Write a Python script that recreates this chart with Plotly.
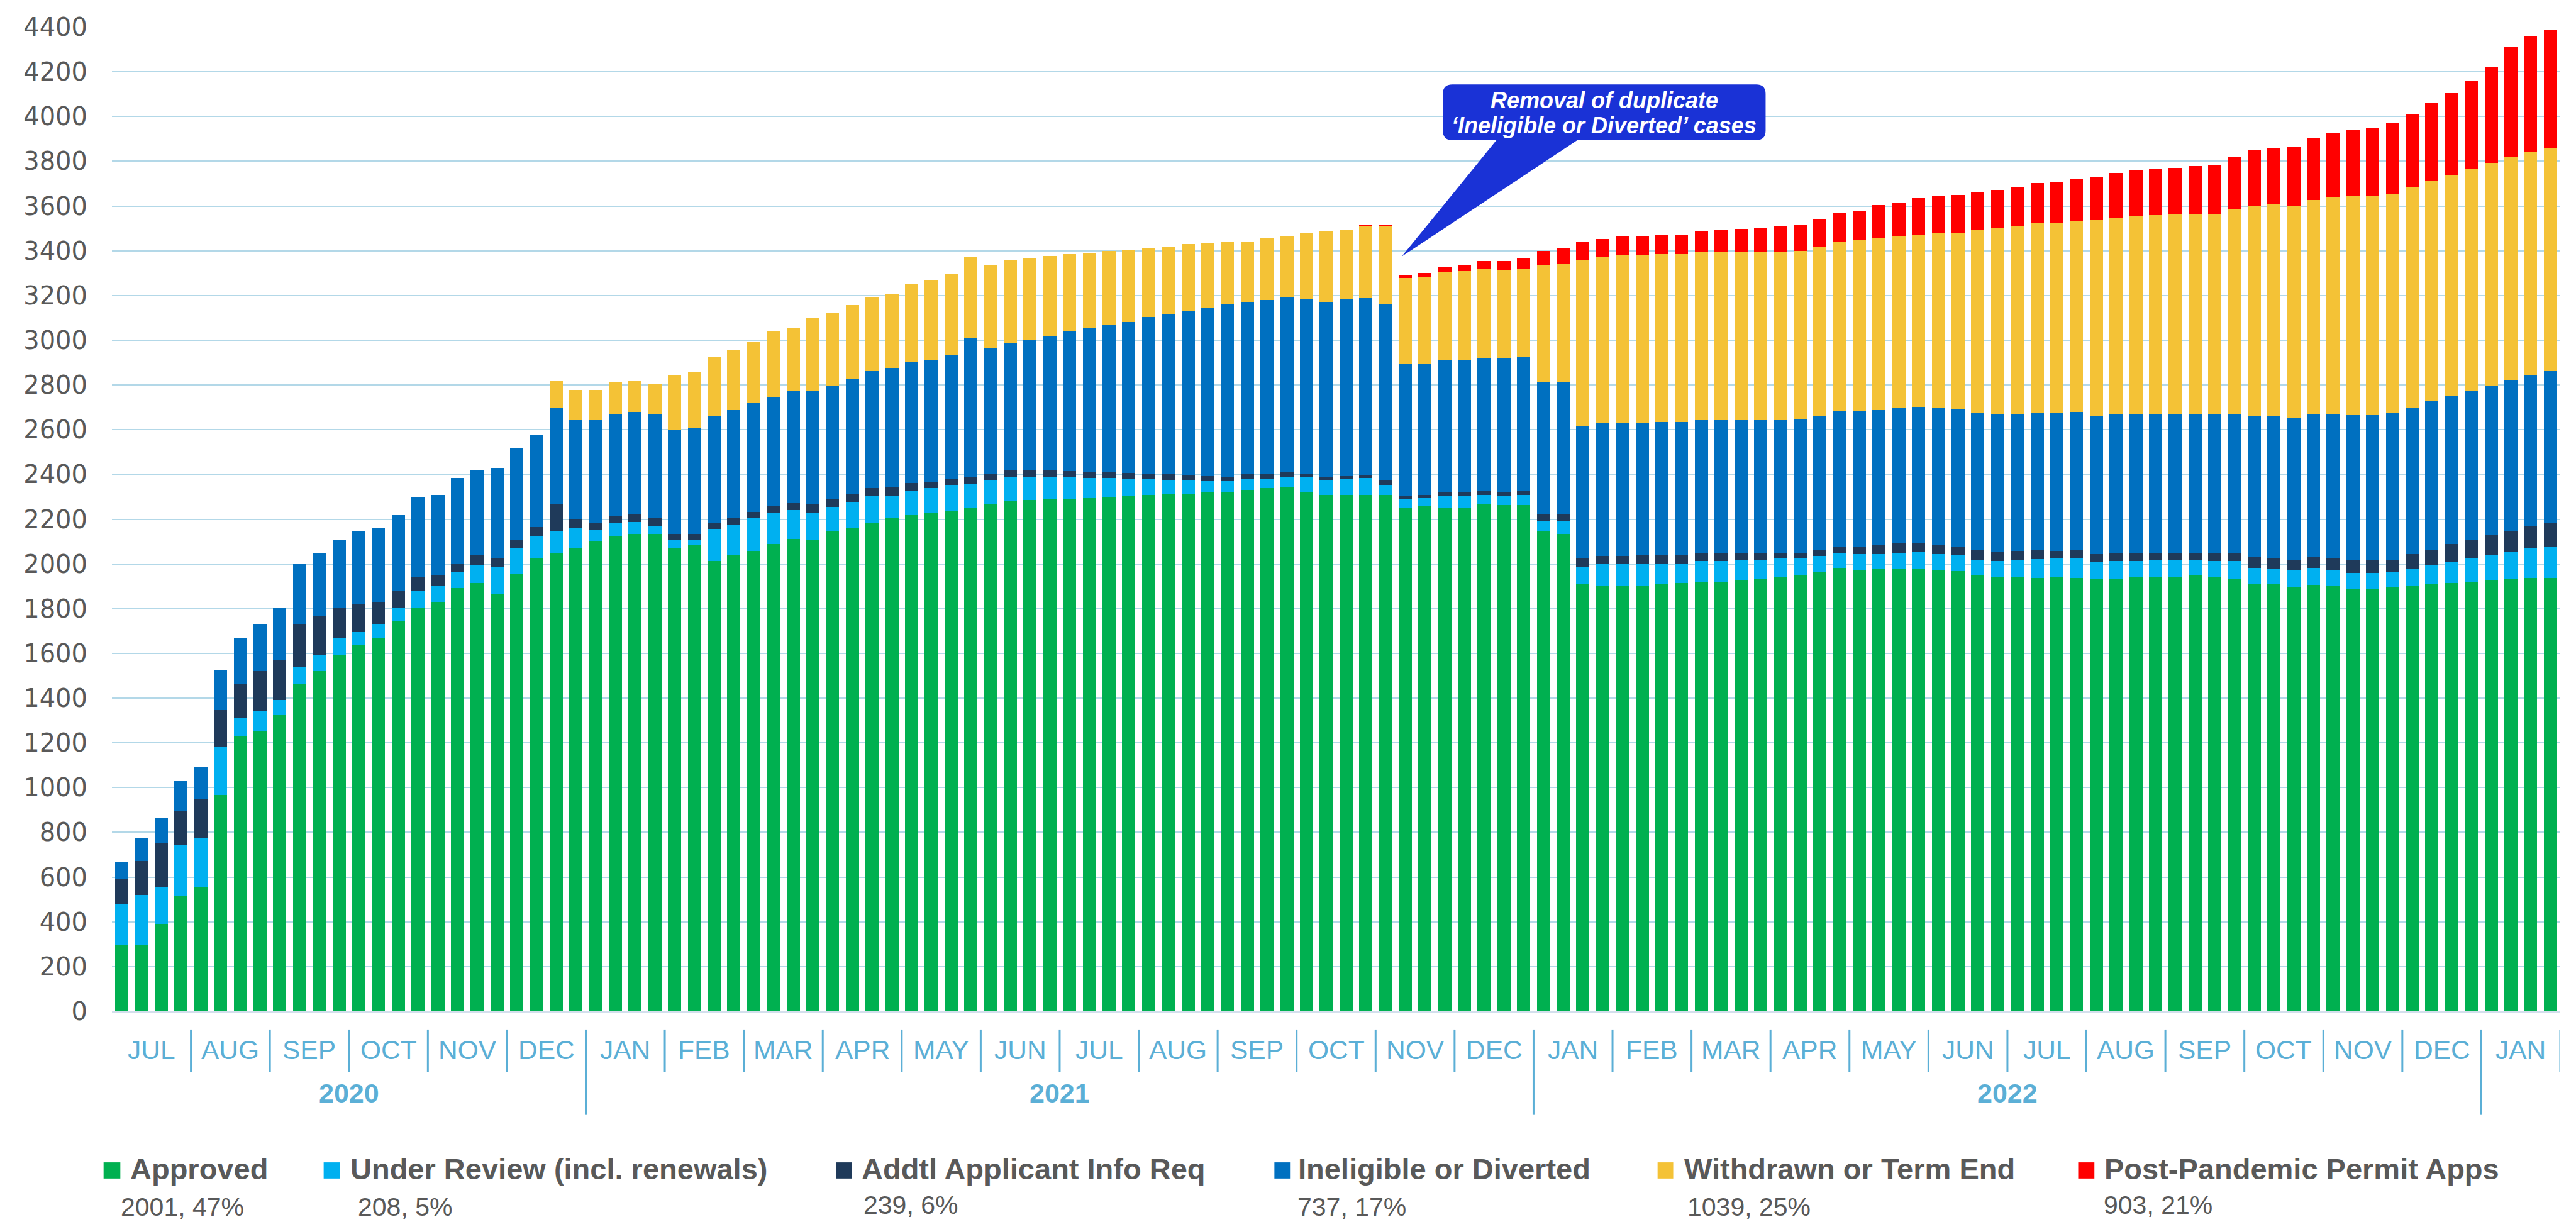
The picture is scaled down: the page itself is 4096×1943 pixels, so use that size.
import plotly.graph_objects as go

# ---------------- DATA ----------------
months = ["JUL", "AUG", "SEP", "OCT", "NOV", "DEC",
          "JAN", "FEB", "MAR", "APR", "MAY", "JUN", "JUL", "AUG", "SEP", "OCT", "NOV", "DEC",
          "JAN", "FEB", "MAR", "APR", "MAY", "JUN", "JUL", "AUG", "SEP", "OCT", "NOV", "DEC",
          "JAN"]
bars_per_month = 4
year_labels = ["2020", "2021", "2022"]
year_first_month = [0, 6, 18]
year_last_month = [6, 18, 30]

approved = [294, 294, 391, 515, 556, 968, 1232, 1253, 1323, 1465, 1521, 1591, 1635, 1668, 1747, 1803,
            1829, 1891, 1915, 1865, 1956, 2026, 2050, 2070, 2103, 2126, 2135, 2135, 2070, 2085, 2012, 2041,
            2059, 2088, 2112, 2106, 2144, 2162, 2185, 2203, 2218, 2229, 2238, 2250, 2265, 2279, 2285, 2288,
            2291, 2294, 2300, 2306, 2309, 2312, 2315, 2320, 2323, 2332, 2338, 2341, 2320, 2309, 2309, 2309,
            2309, 2253, 2259, 2253, 2250, 2265, 2262, 2262, 2144, 2135, 1912, 1900, 1900, 1900, 1909, 1915,
            1918, 1920, 1929, 1935, 1944, 1950, 1965, 1982, 1973, 1976, 1979, 1979, 1970, 1968, 1950, 1944,
            1941, 1938, 1941, 1938, 1932, 1935, 1941, 1944, 1944, 1947, 1941, 1932, 1912, 1909, 1897, 1906,
            1900, 1888, 1888, 1897, 1900, 1909, 1915, 1920, 1926, 1932, 1938, 1938]
under_review = [188, 227, 165, 226, 220, 217, 77, 88, 68, 73, 73, 77, 59, 64, 59, 76,
                71, 71, 79, 123, 117, 100, 94, 92, 50, 59, 53, 36, 36, 24, 144, 132,
                144, 138, 129, 123, 112, 114, 121, 103, 111, 109, 115, 106, 108, 112, 106, 100,
                97, 91, 85, 76, 70, 64, 58, 50, 47, 47, 44, 50, 71, 64, 73, 76,
                44, 35, 35, 53, 53, 44, 44, 47, 50, 56, 73, 100, 100, 103, 94, 88,
                94, 92, 89, 83, 79, 76, 70, 65, 71, 68, 71, 74, 74, 70, 68, 68,
                74, 83, 82, 88, 77, 77, 71, 71, 71, 68, 71, 80, 70, 67, 76, 76,
                73, 71, 71, 65, 76, 85, 94, 103, 115, 124, 132, 141]
addtl_info = [112, 152, 197, 153, 174, 162, 156, 180, 177, 194, 171, 138, 129, 97, 73, 65,
              50, 41, 47, 38, 33, 39, 121, 38, 32, 27, 33, 35, 29, 26, 26, 33,
              29, 33, 32, 41, 35, 36, 32, 35, 33, 30, 29, 35, 30, 29, 29, 30,
              27, 27, 24, 24, 24, 24, 24, 24, 21, 21, 18, 18, 12, 15, 12, 12,
              20, 18, 15, 14, 17, 17, 17, 17, 29, 30, 38, 35, 35, 38, 38, 38,
              35, 35, 29, 29, 24, 21, 27, 32, 32, 38, 41, 38, 41, 41, 44, 44,
              44, 41, 36, 36, 35, 35, 35, 35, 35, 35, 35, 35, 47, 47, 45, 47,
              53, 59, 59, 56, 68, 71, 79, 86, 88, 91, 101, 103]
ineligible = [74, 103, 112, 135, 144, 176, 203, 211, 238, 271, 285, 303, 321, 330, 339, 353,
              359, 382, 379, 403, 411, 414, 432, 444, 459, 458, 458, 462, 465, 471, 480, 482,
              488, 488, 500, 503, 503, 517, 524, 535, 541, 544, 550, 618, 559, 565, 583, 602,
              623, 641, 658, 676, 700, 717, 735, 753, 771, 770, 779, 782, 782, 782, 788, 791,
              791, 588, 585, 592, 589, 594, 595, 597, 592, 591, 595, 597, 597, 591, 594, 594,
              597, 597, 597, 597, 597, 600, 600, 603, 606, 606, 609, 612, 612, 612, 611, 612,
              611, 614, 617, 617, 618, 621, 621, 620, 618, 620, 621, 623, 633, 639, 632, 641,
              644, 647, 647, 655, 656, 661, 662, 664, 668, 676, 673, 680]
withdrawn = [0, 0, 0, 0, 0, 0, 0, 0, 0, 0, 0, 0, 0, 0, 0, 0,
             0, 0, 0, 0, 0, 0, 121, 135, 135, 142, 139, 138, 244, 250, 264, 268,
             271, 291, 283, 324, 326, 327, 332, 333, 350, 358, 362, 364, 373, 374, 364, 356,
             347, 338, 333, 324, 309, 303, 297, 288, 279, 271, 280, 273, 294, 315, 312, 321,
             345, 385, 391, 394, 400, 397, 397, 397, 520, 529, 741, 741, 747, 750, 750, 750,
             750, 750, 750, 753, 753, 753, 755, 756, 768, 771, 764, 770, 782, 791, 818, 832,
             839, 847, 850, 856, 876, 879, 885, 889, 894, 894, 896, 915, 938, 944, 950, 956,
             968, 979, 979, 983, 982, 985, 988, 991, 997, 994, 997, 997]
post_pandemic = [0, 0, 0, 0, 0, 0, 0, 0, 0, 0, 0, 0, 0, 0, 0, 0,
                 0, 0, 0, 0, 0, 0, 0, 0, 0, 0, 0, 0, 0, 0, 0, 0,
                 0, 0, 0, 0, 0, 0, 0, 0, 0, 0, 0, 0, 0, 0, 0, 0,
                 0, 0, 0, 0, 0, 0, 0, 0, 0, 0, 0, 0, 0, 0, 0, 5,
                 8, 12, 15, 23, 29, 36, 38, 47, 65, 71, 79, 80, 85, 85, 85, 88,
                 94, 100, 103, 103, 115, 117, 124, 129, 129, 144, 153, 162, 165, 168, 171, 173,
                 173, 180, 183, 188, 194, 200, 206, 205, 208, 215, 221, 235, 250, 255, 267, 280,
                 288, 294, 303, 314, 330, 348, 368, 398, 429, 495, 520, 526]

series_names = ["Approved", "Under Review (incl. renewals)", "Addtl Applicant Info Req",
                "Ineligible or Diverted", "Withdrawn or Term End", "Post-Pandemic Permit Apps"]
series_values = [approved, under_review, addtl_info, ineligible, withdrawn, post_pandemic]
series_colors = ["#00B050", "#00B0F0", "#1F3A5A", "#0070C0", "#F4C236", "#FF0000"]
legend_values = ["2001, 47%", "208, 5%", "239, 6%", "737, 17%", "1039, 25%", "903, 21%"]

callout_lines = ["Removal of duplicate", "\u2018Ineligible or Diverted\u2019 cases"]

# ---------------- LAYOUT HELPERS (reference-pixel -> paper) ----------------
REF_L, REF_R, REF_T, REF_B = 191.0, 4574.0, 36.6, 1800.4


def px(xr):
    return (xr - REF_L) / (REF_R - REF_L)


def py(yr):
    return (REF_B - yr) / (REF_B - REF_T)


GRAY = "#595959"
AXBLUE = "#5BAFD6"
FONT = "Liberation Sans, Arial, sans-serif"
n = len(approved)
x = list(range(n))

fig = go.Figure()
for name, vals, col in zip(series_names, series_values, series_colors):
    fig.add_trace(go.Bar(x=x, y=vals, name=name, marker=dict(color=col, line=dict(width=0)),
                         showlegend=False))

shapes = []
annotations = []

# month labels + dividers
for m, lab in enumerate(months):
    annotations.append(dict(x=m * bars_per_month + (bars_per_month - 1) / 2, xref="x",
                            y=py(1870), yref="paper", text=lab, showarrow=False,
                            xanchor="center", yanchor="middle",
                            font=dict(family=FONT, size=42.5, color=AXBLUE)))
year_bounds = set(year_last_month)
for k in range(1, len(months) + 1):
    xb = k * bars_per_month - 0.5
    y_bottom = py(1986) if k in year_bounds else py(1909)
    shapes.append(dict(type="line", xref="x", yref="paper", x0=xb, x1=xb, y0=py(1833), y1=y_bottom,
                       line=dict(color=AXBLUE, width=3)))
for lab, m0, m1 in zip(year_labels, year_first_month, year_last_month):
    xc = (m0 * bars_per_month + m1 * bars_per_month) / 2 - 0.5
    annotations.append(dict(x=xc, xref="x", y=py(1947), yref="paper", text="<b>" + lab + "</b>",
                            showarrow=False, xanchor="center", yanchor="middle",
                            font=dict(family=FONT, size=43, color=AXBLUE)))

# legend (custom)
leg_sq = [(176, 206), (570, 599), (1488, 1516), (2272, 2300), (2958, 2986), (3711, 3740)]
leg_txt_x = [221, 615, 1531, 2312, 3003, 3755]
leg_val_x = [206, 630, 1535, 2312, 3010, 3756]
leg_val_y = [2151, 2151, 2147, 2151, 2151, 2148]
for i in range(len(series_names)):
    shapes.append(dict(type="rect", xref="paper", yref="paper",
                       x0=px(leg_sq[i][0]), x1=px(leg_sq[i][1]), y0=py(2071), y1=py(2100),
                       fillcolor=series_colors[i], line=dict(width=0)))
    annotations.append(dict(x=px(leg_txt_x[i]), xref="paper", y=py(2083), yref="paper",
                            text="<b>" + series_names[i] + "</b>", showarrow=False,
                            xanchor="left", yanchor="middle",
                            font=dict(family=FONT, size=47, color=GRAY)))
    annotations.append(dict(x=px(leg_val_x[i]), xref="paper", y=py(leg_val_y[i]), yref="paper",
                            text=legend_values[i], showarrow=False, xanchor="left", yanchor="middle",
                            borderpad=0,
                            font=dict(family=FONT, size=41, color=GRAY)))

# callout bubble
bx0, bx1, by0, by1, r = 2573.6, 3151.4, 139.3, 239.3, 17.0
b1, b2, tipx, tipy = 2669.6, 2814.5, 2500.0, 447.7


def P(xr, yr):
    return "%.5f,%.5f" % (px(xr), py(yr))


path = ("M " + P(bx0 + r, by0) + " L " + P(bx1 - r, by0) + " Q " + P(bx1, by0) + " " + P(bx1, by0 + r)
        + " L " + P(bx1, by1 - r) + " Q " + P(bx1, by1) + " " + P(bx1 - r, by1)
        + " L " + P(b2, by1) + " L " + P(tipx, tipy) + " L " + P(b1, by1)
        + " L " + P(bx0 + r, by1) + " Q " + P(bx0, by1) + " " + P(bx0, by1 - r)
        + " L " + P(bx0, by0 + r) + " Q " + P(bx0, by0) + " " + P(bx0 + r, by0) + " Z")
shapes.append(dict(type="path", xref="paper", yref="paper", path=path, fillcolor="#1A32D6",
                   line=dict(width=0), layer="above"))
for line_txt, yy in zip(callout_lines, [167.5, 212.5]):
    annotations.append(dict(x=px((bx0 + bx1) / 2), xref="paper", y=py(yy), yref="paper",
                            text="<b><i>" + line_txt + "</i></b>", showarrow=False,
                            xanchor="center", yanchor="middle",
                            font=dict(family=FONT, size=36, color="white")))

fig.update_layout(
    width=4096, height=1943, autosize=False,
    margin=dict(l=170, r=33, t=33, b=343, pad=0),
    paper_bgcolor="white", plot_bgcolor="white",
    barmode="stack", bargap=0.33,
    shapes=shapes, annotations=annotations,
    xaxis=dict(range=[-0.5, n - 0.5], showticklabels=False, showgrid=False, zeroline=False,
               showline=True, linecolor="#D3DFEC", linewidth=2, ticks=""),
    yaxis=dict(range=[0, 4400], dtick=200, tick0=0, showgrid=True, gridcolor="#B3D8E8", gridwidth=2,
               zeroline=False, showline=False, ticks="", ticklabelstandoff=38,
               tickfont=dict(family="DejaVu Sans, Liberation Sans, sans-serif", size=40, color=GRAY)),
)

fig.write_html("out.html")
